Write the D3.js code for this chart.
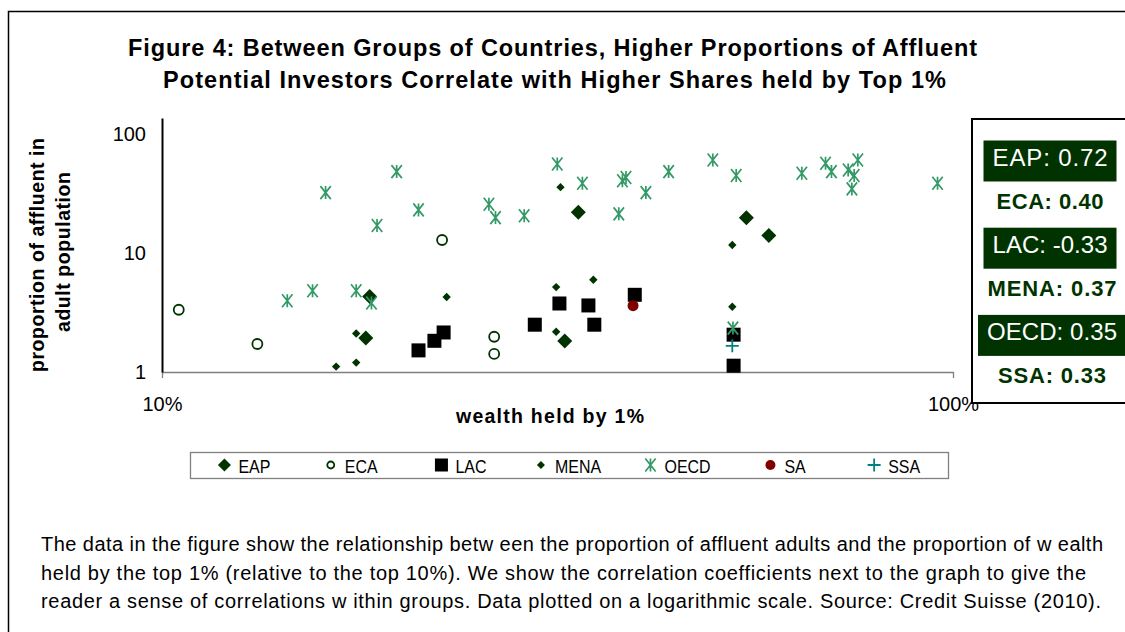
<!DOCTYPE html>
<html><head><meta charset="utf-8">
<script src="https://cdn.jsdelivr.net/npm/d3@7"></script>
<style>
body{margin:0;background:#fff}
svg{display:block}
text{font-family:"Liberation Sans",Arial,sans-serif}
</style>
</head><body>
<svg id="chart" width="1125" height="632"></svg>
<script>
// ---------- DATA ----------
const groups = ["EAP","ECA","LAC","MENA","OECD","SA","SSA"];
// x = wealth held by top 1% (%), y = proportion of affluent in adult population
const eapX  = [18.3, 18.1, 33.6, 32.3, 54.8, 58.5];
const eapY  = [4.32, 1.93, 22.1, 1.82, 19.8, 14.1];
const ecaX  = [10.5, 13.2, 22.6, 26.3, 26.3];
const ecaY  = [3.34, 1.72, 12.9, 1.98, 1.42];
const lacX  = [21.1, 22.1, 22.7, 29.6, 31.8, 34.6, 35.2, 39.6, 52.8, 52.8];
const lacY  = [1.52, 1.83, 2.15, 2.50, 3.77, 3.63, 2.50, 4.46, 2.06, 1.13];
const menaX = [17.6, 16.6, 17.6, 22.9, 31.9, 31.5, 35.1, 31.5, 52.6, 52.6];
const menaY = [2.11, 1.11, 1.20, 4.27, 35.9, 5.18, 5.97, 2.18, 11.7, 3.54];
const oecdX = [16.1, 19.8, 18.7, 21.1, 25.9, 26.4, 28.7, 14.4, 15.5, 17.6, 18.4,
               31.6, 34.0, 38.2, 38.6, 40.9, 43.7, 49.7, 53.2, 37.8, 64.4, 69.0,
               70.2, 73.7, 75.8, 75.0, 74.5, 95.6, 52.7];
const oecdY = [32.3, 48.5, 17.1, 23.1, 25.8, 19.9, 20.6, 3.97, 4.82, 4.82, 3.80,
               56.3, 38.7, 40.7, 43.2, 32.3, 48.5, 60.8, 44.9, 21.4, 47.0, 57.1,
               48.5, 50.1, 60.8, 44.9, 34.7, 38.7, 2.34];
const saX   = [39.4];
const saY   = [3.61];
const ssaX  = [52.6];
const ssaY  = [1.66];

const xTicks = [10, 100];
const xTickLabels = ["10%", "100%"];
const yTicks = [1, 10, 100];
const yTickLabels = ["1", "10", "100"];

const corrGroups = ["EAP","ECA","LAC","MENA","OECD","SSA"];
const corrValues = ["0.72","0.40","-0.33","0.37","0.35","0.33"];
const corrFilled = [true, false, true, false, true, false];

const titleLines = ["Figure 4: Between Groups of Countries, Higher Proportions of Affluent",
                    "Potential Investors Correlate with Higher Shares held by Top 1%"];
const xLabel = "wealth held by 1%";
const yLabelLines = ["proportion of affluent in", "adult population"];
const captionLines = [
 "The data in the figure show  the relationship betw een the proportion of affluent adults and the proportion of w ealth",
 "held by the top 1% (relative to the top 10%). We show  the correlation coefficients next to the graph to give the",
 "reader a sense of correlations w ithin groups. Data plotted on a logarithmic scale. Source: Credit Suisse (2010)."
];

// ---------- STYLE / LAYOUT ----------
const DG = "#003300";
const styles = {
  EAP:  {kind:"diamond", r:7.5, fill:DG},
  ECA:  {kind:"circle",  r:5, stroke:DG},
  LAC:  {kind:"square",  r:7, fill:"#000"},
  MENA: {kind:"diamond", r:4.2, fill:DG},
  OECD: {kind:"star",    r:6.5, stroke:"#339966"},
  SA:   {kind:"dot",     r:5.5, fill:"#800000"},
  SSA:  {kind:"plus",    r:6.5, stroke:"#008080"}
};
const series = [
  {name:"EAP", x:eapX, y:eapY},
  {name:"ECA", x:ecaX, y:ecaY},
  {name:"LAC", x:lacX, y:lacY},
  {name:"MENA", x:menaX, y:menaY},
  {name:"OECD", x:oecdX, y:oecdY},
  {name:"SA", x:saX, y:saY},
  {name:"SSA", x:ssaX, y:ssaY}
];
const titleWidths = [849, 783];
const captionWidths = [1062, 1045, 1060];
const yLabelWidths = [234, 160];
const corrWidths = [115, 107, 115, 129, 130, 108];

const svg = d3.select("#chart");

// frame
svg.append("path").attr("d","M8.5,632V11.5H1125").attr("fill","none").attr("stroke","#000").attr("stroke-width",1.5);

// title
svg.append("g").selectAll("text").data(titleLines).join("text")
  .attr("x", (d,i)=> i===0 ? 128 : 163).attr("y",(d,i)=>56+i*32)
  .attr("font-size",23.5).attr("font-weight","bold").attr("fill","#000")
  .attr("textLength",(d,i)=>titleWidths[i]).attr("lengthAdjust","spacing")
  .text(d=>d);

// scales
const x = d3.scaleLog().domain([10,100]).range([162,953]);
const y = d3.scaleLog().domain([1,137]).range([372,118]);

// axes
const gx = svg.append("g").attr("transform","translate(0,372)")
  .call(d3.axisBottom(x).tickValues(xTicks).tickFormat((d,i)=>xTickLabels[i]).tickSize(6).tickSizeOuter(0).tickPadding(19));
gx.select(".domain").attr("stroke","#808080").attr("stroke-width",1.3);
gx.selectAll(".tick line").attr("stroke","#808080").attr("stroke-width",1.3);
gx.selectAll(".tick text").attr("font-size",20).attr("fill","#000").attr("font-family","Liberation Sans, Arial, sans-serif");

const gy = svg.append("g").attr("transform","translate(162,0)")
  .call(d3.axisLeft(y).tickValues(yTicks).tickFormat((d,i)=>yTickLabels[i]).tickSize(0).tickSizeOuter(0).tickPadding(16));
gy.select(".domain").attr("stroke","#000").attr("stroke-width",2);
gy.selectAll(".tick text").attr("font-size",20).attr("fill","#000").attr("font-family","Liberation Sans, Arial, sans-serif");

// axis labels
svg.append("text").attr("x",456).attr("y",423)
  .attr("font-size",19.5).attr("font-weight","bold")
  .attr("textLength",188).attr("lengthAdjust","spacing").text(xLabel);
svg.append("g").selectAll("text").data(yLabelLines).join("text")
  .attr("transform",(d,i)=>`translate(${37+i*26},${i===0?372:332}) rotate(-90)`)
  .attr("dominant-baseline","central")
  .attr("font-size",19.5).attr("font-weight","bold")
  .attr("textLength",(d,i)=>yLabelWidths[i]).attr("lengthAdjust","spacing")
  .text(d=>d);

// marker drawer
function drawMarker(sel, st){
  const r = st.r;
  if(st.kind==="diamond"){
    sel.append("path").attr("d",`M0,${-r}L${r},0L0,${r}L${-r},0Z`).attr("fill",st.fill);
  } else if(st.kind==="square"){
    sel.append("rect").attr("x",-r).attr("y",-r).attr("width",2*r).attr("height",2*r).attr("fill",st.fill);
  } else if(st.kind==="circle"){
    sel.append("circle").attr("r",r).attr("fill","#fff").attr("stroke",st.stroke).attr("stroke-width",1.8);
  } else if(st.kind==="dot"){
    sel.append("circle").attr("r",r).attr("fill",st.fill);
  } else if(st.kind==="star"){
    const a = r*0.8;
    sel.append("path").attr("d",`M${-a},${-r}L${a},${r}M${a},${-r}L${-a},${r}M0,${-r}L0,${r}`)
      .attr("stroke",st.stroke).attr("stroke-width",1.7).attr("fill","none");
  } else if(st.kind==="plus"){
    sel.append("path").attr("d",`M${-r},0H${r}M0,${-r}V${r}`)
      .attr("stroke",st.stroke).attr("stroke-width",1.8).attr("fill","none");
  }
}

// points
const plot = svg.append("g");
series.forEach(s=>{
  const st = styles[s.name];
  const pts = s.x.map((v,i)=>({x:v, y:s.y[i]}));
  plot.append("g").selectAll("g").data(pts).join("g")
    .attr("transform",d=>`translate(${x(d.x)},${y(d.y)})`)
    .each(function(){ drawMarker(d3.select(this), st); });
});

// legend
const legX0 = 190, legX1 = 948, legY0 = 452, legY1 = 478;
svg.append("rect").attr("x",legX0+0.5).attr("y",legY0+0.5).attr("width",legX1-legX0).attr("height",legY1-legY0)
  .attr("fill","#fff").attr("stroke","#808080").attr("stroke-width",1.3);
const slot = d3.scaleBand().domain(groups).range([legX0, legX1]);
const legSizes = {EAP:6.5, ECA:3.5, LAC:6.5, MENA:4, OECD:6.5, SA:5, SSA:6.5};
groups.forEach(g=>{
  const item = svg.append("g");
  const st = Object.assign({}, styles[g], {r:legSizes[g]});
  const m = item.append("g");
  drawMarker(m, st);
  const t = item.append("text").attr("x",14).attr("y",1).attr("dominant-baseline","central")
    .attr("font-size",19).text(g);
  const nat = t.node().getComputedTextLength();
  const tw = nat*0.84;
  t.attr("textLength",tw).attr("lengthAdjust","spacingAndGlyphs");
  const w = 14 + tw + st.r;
  const cx = slot(g) + slot.bandwidth()/2;
  item.attr("transform",`translate(${cx - w/2 + st.r},${(legY0+legY1)/2})`);
});

// correlation box
svg.append("rect").attr("x",972).attr("y",119).attr("width",170).attr("height",284)
  .attr("fill","#fff").attr("stroke","#000").attr("stroke-width",2);
const cy = d3.scalePoint().domain(corrGroups).range([157,375]);
corrGroups.forEach((g,i)=>{
  const label = `${g}: ${corrValues[i]}`;
  const cxr = 1050 + (i>=3 ? 2 : 0);
  const gg = svg.append("g").attr("transform",`translate(${cxr},${cy(g)})`);
  const w = corrWidths[i];
  if(corrFilled[i]){
    gg.append("rect").attr("x",-w/2-9).attr("y",-16.5).attr("width",w+18).attr("height",41).attr("fill",DG);
    gg.append("text").attr("x",-w/2).attr("y",8.5)
      .attr("font-size",24).attr("fill","#fff")
      .attr("textLength",w).attr("lengthAdjust","spacing").text(label);
  } else {
    gg.append("text").attr("x",-w/2).attr("y",8)
      .attr("font-size",22).attr("font-weight","bold").attr("fill",DG)
      .attr("textLength",w).attr("lengthAdjust","spacing").text(label);
  }
});

// caption
svg.append("g").selectAll("text").data(captionLines).join("text")
  .attr("x",41).attr("y",(d,i)=>551+i*28.5)
  .attr("font-size",20).attr("fill","#000")
  .attr("textLength",(d,i)=>captionWidths[i]).attr("lengthAdjust","spacing")
  .text(d=>d);
</script>
</body></html>
